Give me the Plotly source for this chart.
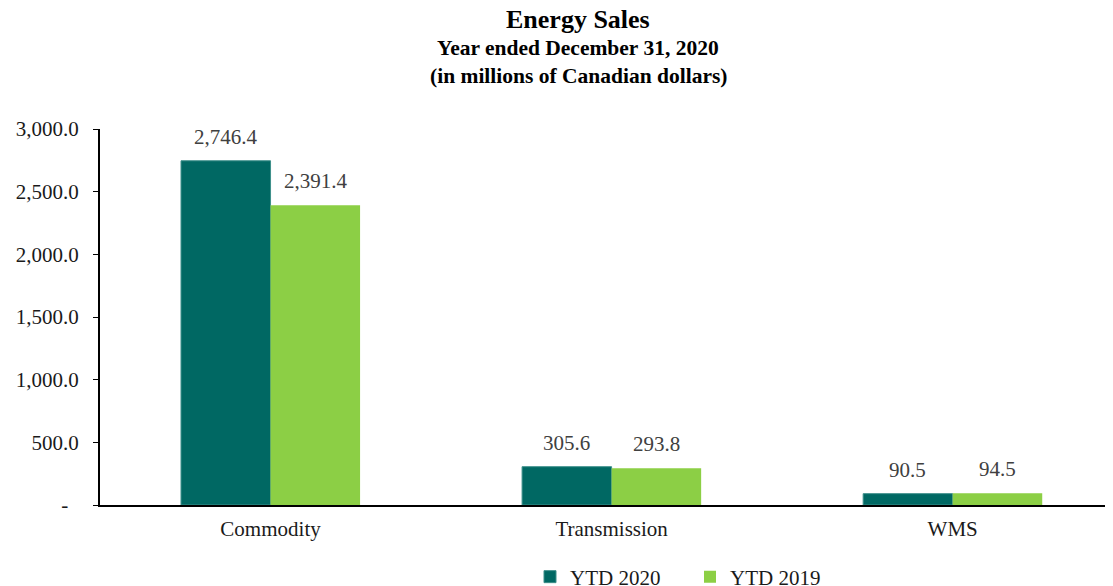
import plotly.graph_objects as go

categories = ["Commodity", "Transmission", "WMS"]
ytd_2020 = [2746.4, 305.6, 90.5]
ytd_2019 = [2391.4, 293.8, 94.5]
series_names = ["YTD 2020", "YTD 2019"]
tick_vals = [0, 500, 1000, 1500, 2000, 2500, 3000]
tick_text = ["-\u00a0\u00a0", "500.0", "1,000.0", "1,500.0", "2,000.0", "2,500.0", "3,000.0"]
title_lines = ["Energy Sales", "Year ended December 31, 2020", "(in millions of Canadian dollars)"]

DARK = "#006863"
LIGHT = "#8ccf45"
FONT = "Liberation Serif, Times New Roman, serif"

W, H = 1105, 578  # page has an 8px body margin

fig = go.Figure()
fig.add_trace(go.Bar(x=categories, y=ytd_2020, name=series_names[0],
                     marker=dict(color=DARK, line=dict(color="#3d8f8a", width=1))))
fig.add_trace(go.Bar(x=categories, y=ytd_2019, name=series_names[1],
                     marker=dict(color=LIGHT, line=dict(width=0))))

annotations = []
for vals, shift in ((ytd_2020, -45), (ytd_2019, 45)):
    for c, v in zip(categories, vals):
        annotations.append(dict(x=c, y=v, xref="x", yref="y", text=f"{v:,.1f}",
                                showarrow=False, xshift=shift, yshift=10,
                                yanchor="bottom",
                                font=dict(family=FONT, size=21, color="#404040")))

# title lines
for txt, ypos, size in zip(title_lines, [1.2899, 1.2154, 1.1410], [26, 21.5, 21.5]):
    annotations.append(dict(x=0.4719, y=ypos, xref="paper", yref="paper",
                            text=f"<b>{txt}</b>", showarrow=False,
                            xanchor="center", yanchor="middle",
                            font=dict(family=FONT, size=size, color="black")))

fig.update_layout(
    width=W, height=H,
    margin=dict(l=92, r=0, t=121, b=81),
    plot_bgcolor="white", paper_bgcolor="white",
    font=dict(family=FONT, color="#1a1a1a"),
    barmode="group", bargap=0.475, bargroupgap=0,
    xaxis=dict(range=[-0.5, 2.47], showline=True, linecolor="black", linewidth=2,
               ticks="", automargin=False, ticklabelstandoff=4,
               tickfont=dict(family=FONT, size=21, color="#1a1a1a")),
    yaxis=dict(range=[0, 3000], tickvals=tick_vals, ticktext=tick_text,
               showline=True, linecolor="black", linewidth=2, showgrid=False,
               ticks="outside", ticklen=5, tickcolor="black", tickwidth=1,
               automargin=False, ticklabelstandoff=10,
               tickfont=dict(family=FONT, size=21, color="#1a1a1a"), zeroline=False),
    legend=dict(orientation="h", xref="container", yref="container",
                x=522 / W, xanchor="left", y=1 - 569 / H, yanchor="middle",
                font=dict(family=FONT, size=21, color="#1a1a1a"), entrywidth=115,
                traceorder="normal"),
    annotations=annotations,
)

fig.write_html("out.html")
